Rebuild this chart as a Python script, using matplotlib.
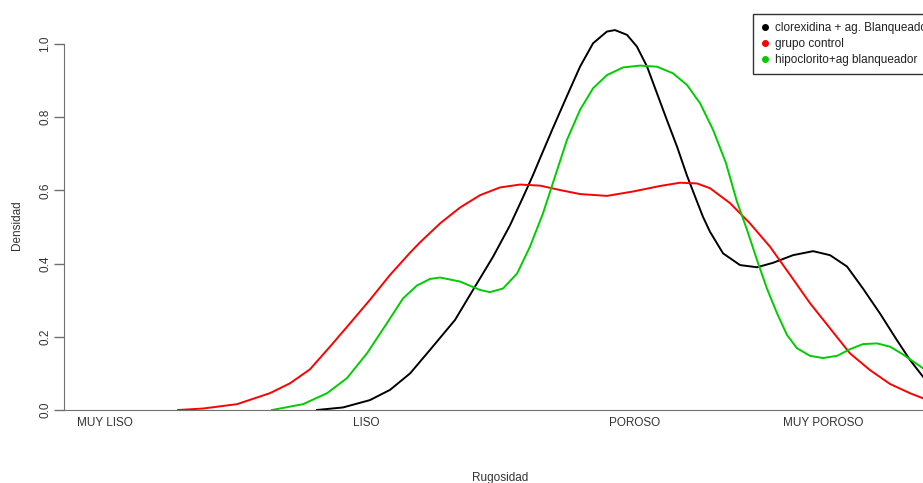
import matplotlib.pyplot as plt
from matplotlib.lines import Line2D

plt.rcParams['font.family'] = ['Liberation Sans', 'DejaVu Sans']

# Density curves by group (x = rugosity scale, y = density)
control_x = [1.280, 1.375, 1.506, 1.632, 1.709, 1.785, 1.862, 1.939, 2.015, 2.092,
             2.169, 2.207, 2.284, 2.360, 2.437, 2.513, 2.590, 2.667, 2.743, 2.820,
             2.923, 3.023, 3.126, 3.203, 3.268, 3.318, 3.395, 3.471, 3.548, 3.625,
             3.701, 3.778, 3.854, 3.931, 4.008, 4.084, 4.134]
control_y = [0.0, 0.004, 0.016, 0.046, 0.073, 0.111, 0.173, 0.237, 0.301, 0.369,
             0.430, 0.458, 0.510, 0.553, 0.587, 0.608, 0.616, 0.613, 0.601, 0.590,
             0.585, 0.597, 0.612, 0.621, 0.619, 0.606, 0.565, 0.510, 0.446, 0.369,
             0.292, 0.223, 0.155, 0.109, 0.071, 0.046, 0.032]

clorex_x = [1.812, 1.912, 2.015, 2.092, 2.169, 2.245, 2.341, 2.410, 2.487, 2.552,
            2.602, 2.640, 2.667, 2.716, 2.770, 2.820, 2.870, 2.923, 2.954, 3.000,
            3.038, 3.077, 3.115, 3.153, 3.192, 3.230, 3.268, 3.291, 3.318, 3.368,
            3.433, 3.498, 3.559, 3.636, 3.713, 3.778, 3.843, 3.904, 3.969, 4.034,
            4.084, 4.134]
clorex_y = [0.0, 0.007, 0.027, 0.055, 0.100, 0.164, 0.246, 0.328, 0.419, 0.505,
            0.582, 0.642, 0.688, 0.770, 0.858, 0.938, 1.002, 1.034, 1.038, 1.025,
            0.993, 0.938, 0.865, 0.792, 0.719, 0.640, 0.570, 0.528, 0.487, 0.428,
            0.396, 0.390, 0.402, 0.423, 0.434, 0.423, 0.392, 0.332, 0.264, 0.191,
            0.137, 0.091]

hipo_x = [1.640, 1.759, 1.851, 1.927, 2.004, 2.080, 2.142, 2.195, 2.245, 2.284,
          2.360, 2.437, 2.475, 2.525, 2.579, 2.628, 2.678, 2.716, 2.770, 2.820,
          2.870, 2.923, 2.985, 3.050, 3.115, 3.176, 3.230, 3.280, 3.330, 3.379,
          3.421, 3.460, 3.498, 3.536, 3.575, 3.613, 3.651, 3.701, 3.751, 3.805,
          3.854, 3.904, 3.958, 4.008, 4.057, 4.134]
hipo_y = [0.0, 0.016, 0.046, 0.087, 0.155, 0.237, 0.305, 0.340, 0.358, 0.362,
          0.351, 0.328, 0.322, 0.332, 0.373, 0.446, 0.537, 0.620, 0.738, 0.820,
          0.879, 0.915, 0.936, 0.941, 0.938, 0.920, 0.888, 0.838, 0.765, 0.675,
          0.570, 0.492, 0.410, 0.332, 0.264, 0.205, 0.169, 0.148, 0.142, 0.148,
          0.166, 0.180, 0.182, 0.173, 0.152, 0.114]

rug_ticks = [1.0, 2.0, 3.03, 3.75]
rug_labels = ['MUY LISO', 'LISO', 'POROSO', 'MUY POROSO']
dens_ticks = [0.0, 0.2, 0.4, 0.6, 0.8, 1.0]

groups = ['clorexidina + ag. Blanqueador', 'grupo control', 'hipoclorito+ag blanqueador']
colors = ['black', '#FF0000', '#00CD00']

fig = plt.figure(figsize=(9.23, 4.83), dpi=100)
# plot region runs past the right edge of the image
ax = fig.add_axes([64 / 923, 73 / 483, 936 / 923, 405 / 483])

ax.plot(clorex_x, clorex_y, color=colors[0], lw=1.4)
ax.plot(control_x, control_y, color=colors[1], lw=1.4)
ax.plot(hipo_x, hipo_y, color=colors[2], lw=1.4)

ax.set_xlim(1 + (64 - 105) / 261, 1 + (1000 - 105) / 261)
ax.set_ylim(0, 405 / 366)

for s in ['top', 'right']:
    ax.spines[s].set_visible(False)
ax.spines['left'].set_bounds(0, 1.0)
ax.spines['left'].set_color('#707070')
ax.spines['bottom'].set_color('#707070')

ax.set_yticks(dens_ticks)
ax.set_yticklabels([f'{v:.1f}' for v in dens_ticks], rotation=90, va='center')
ax.tick_params(axis='y', length=7, width=1, color='#707070', pad=2,
               labelsize=8.5, labelcolor='#333333')

ax.set_xticks(rug_ticks)
ax.set_xticklabels(rug_labels)
ax.tick_params(axis='x', length=0, pad=5, labelsize=8.5, labelcolor='#333333')

fig.text(500 / 923, 1 - 478 / 483, 'Rugosidad', ha='center', va='center',
         fontsize=8.5, color='#333333')
fig.text(17 / 923, 1 - 225 / 483, 'Densidad', ha='center', va='center',
         rotation=90, fontsize=8.5, color='#333333')

handles = [Line2D([], [], marker='o', ls='none', color=c, markersize=4) for c in colors]
leg = fig.legend(handles, groups, loc='upper left', bbox_to_anchor=(753 / 923, 1 - 14 / 483),
                 frameon=True, fancybox=False, fontsize=8.5, handlelength=0.6,
                 handletextpad=0.57, labelspacing=0.31, borderpad=0.72, borderaxespad=0)
leg.get_frame().set_edgecolor('black')
leg.get_frame().set_linewidth(1)
for t in leg.get_texts():
    t.set_color('#222222')

fig.savefig('out.png', dpi=100)
